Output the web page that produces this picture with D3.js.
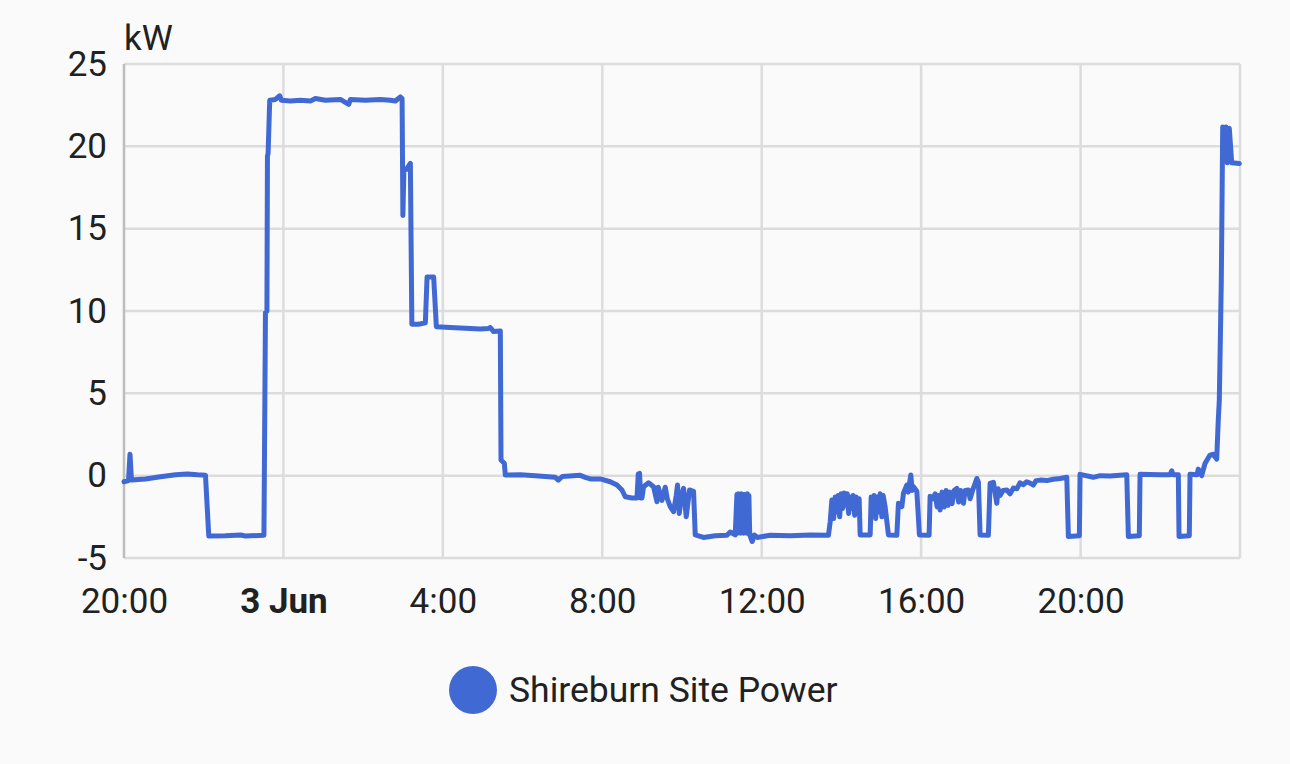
<!DOCTYPE html>
<html>
<head>
<meta charset="utf-8">
<script src="https://cdn.jsdelivr.net/npm/d3@7"></script>
<style>
  html, body { margin: 0; padding: 0; background: #fafafa; }
  svg { display: block; }
  text { font-family: Roboto, "Noto Sans", sans-serif; fill: #212121; }
</style>
</head>
<body>
<svg id="chart" width="1290" height="764"></svg>
<script>
// ---- data ----
const seriesName = "Shireburn Site Power";
const unitLabel = "kW";
const startTime = new Date(2024, 5, 2, 20, 0);   // 2 Jun 20:00
const endTime = new Date(2024, 5, 4, 0, 0);      // 4 Jun 00:00
const yTicks = [-5, 0, 5, 10, 15, 20, 25];
// hours since start (2 Jun 20:00)
const hoursSinceStart = [
  0, 0.113, 0.150, 0.188, 0.539, 0.915, 1.292, 1.585, 1.843, 2.044,
  2.127, 2.545, 2.922, 3.047, 3.511, 3.549, 3.586, 3.599, 3.616, 3.656,
  3.799, 3.907, 3.950, 4.175, 4.426, 4.677, 4.802, 5.053, 5.429, 5.638,
  5.680, 6.056, 6.433, 6.683, 6.809, 6.934, 6.977, 6.997, 7.022, 7.085,
  7.185, 7.222, 7.385, 7.561, 7.604, 7.769, 7.837, 8.188, 8.564, 8.940,
  9.141, 9.191, 9.274, 9.442, 9.459, 9.542, 9.567, 9.943, 10.320, 10.821,
  10.896, 10.997, 11.448, 11.574, 11.699, 11.950, 12.200, 12.369, 12.494, 12.577,
  12.745, 12.870, 12.903, 12.935, 12.965, 12.995, 13.036, 13.161, 13.286, 13.372,
  13.404, 13.497, 13.580, 13.630, 13.705, 13.788, 13.856, 13.888, 13.931, 13.981,
  14.039, 14.106, 14.189, 14.290, 14.332, 14.540, 14.834, 15.127, 15.210, 15.335,
  15.378, 15.398, 15.415, 15.436, 15.453, 15.473, 15.491, 15.511, 15.528, 15.548,
  15.566, 15.586, 15.604, 15.624, 15.641, 15.661, 15.679, 15.699,
  15.762, 15.812, 15.887, 16.213, 16.715, 17.216, 17.675, 17.718, 17.760, 17.805,
  17.843, 17.881, 17.918, 17.956, 17.993, 18.031, 18.069, 18.106, 18.144, 18.182,
  18.219, 18.257, 18.294, 18.332, 18.370, 18.407, 18.445, 18.470, 18.721, 18.746,
  18.783, 18.821, 18.859, 18.896, 18.934, 18.971, 19.014, 19.047, 19.097, 19.180,
  19.390, 19.430, 19.516, 19.556, 19.641, 19.674, 19.741, 19.774, 19.807, 19.892,
  19.957, 20.200, 20.225, 20.301, 20.351, 20.401, 20.439, 20.476, 20.526, 20.577,
  20.627, 20.677, 20.727, 20.777, 20.828, 20.895, 20.940, 20.990, 21.061, 21.103,
  21.186, 21.228, 21.304, 21.354, 21.397, 21.437, 21.479, 21.687, 21.730, 21.813,
  21.898, 21.931, 21.981, 22.056, 22.149, 22.232, 22.315, 22.400, 22.482, 22.558,
  22.650, 22.733, 22.816, 22.884, 22.984, 23.152, 23.317, 23.485, 23.654, 23.694,
  23.970, 23.987, 24.321, 24.489, 24.740, 25.159, 25.199, 25.474, 25.492, 25.993,
  26.244, 26.287, 26.320, 26.453, 26.470, 26.728, 26.746, 26.921, 26.954, 27.039,
  27.122, 27.247, 27.330, 27.415, 27.455, 27.481, 27.516, 27.531, 27.566, 27.598,
  27.649, 27.681, 27.731, 27.792, 27.982
];
// site power, kW
const powerKW = [
  -0.37, -0.30, 1.30, -0.27, -0.20, -0.07, 0.05, 0.10, 0.05, 0.03,
  -3.67, -3.65, -3.60, -3.66, -3.62, 9.90, 10.00, 19.40, 19.60, 22.80,
  22.85, 23.07, 22.80, 22.75, 22.80, 22.75, 22.90, 22.80, 22.85, 22.55,
  22.85, 22.80, 22.85, 22.80, 22.75, 23.00, 22.90, 15.80, 18.50, 18.60,
  18.97, 9.20, 9.20, 9.28, 12.07, 12.07, 9.05, 9.00, 8.95, 8.90,
  8.94, 9.00, 8.75, 8.79, 0.95, 0.75, 0.04, 0.05, 0.00, -0.10,
  -0.27, -0.05, 0.02, -0.10, -0.20, -0.20, -0.37, -0.57, -0.87, -1.28,
  -1.36, -1.36, 0.10, 0.14, -1.36, -1.36, -0.67, -0.43, -0.67, -1.58,
  -0.70, -1.50, -0.70, -1.40, -1.88, -2.19, -1.20, -0.57, -2.30, -1.30,
  -0.77, -2.49, -0.87, -0.95, -3.60, -3.75, -3.65, -3.62, -3.42, -3.60,
  -1.15, -3.50, -1.10, -3.40, -1.15, -3.50, -1.10, -3.30, -1.20, -3.50,
  -1.15, -3.40, -1.20, -3.50, -1.10, -3.40, -1.20, -3.60,
  -4.00, -3.60, -3.75, -3.62, -3.65, -3.60, -3.62, -2.80, -1.48, -2.60,
  -1.30, -2.20, -1.20, -2.50, -1.10, -2.00, -1.05, -1.80, -1.10, -2.30,
  -1.30, -2.00, -1.20, -2.40, -1.30, -2.20, -1.40, -3.60, -3.60, -1.30,
  -2.40, -1.20, -2.60, -1.30, -2.20, -1.10, -2.50, -1.20, -1.90, -3.60,
  -3.62, -1.68, -1.88, -1.07, -0.57, -1.00, 0.04, -0.90, -0.67, -0.95,
  -3.60, -3.62, -1.25, -1.40, -1.10, -1.90, -1.20, -2.09, -1.00, -1.90,
  -0.90, -1.80, -1.00, -1.70, -0.90, -0.77, -1.60, -0.90, -1.68, -0.90,
  -0.87, -1.40, -0.80, -0.47, -0.17, -0.40, -3.60, -3.62, -0.47, -0.40,
  -1.68, -0.80, -1.20, -0.90, -0.87, -1.10, -0.75, -0.80, -0.43, -0.55,
  -0.37, -0.45, -0.57, -0.30, -0.27, -0.30, -0.22, -0.17, -0.10, -3.70,
  -3.65, 0.08, -0.10, 0.00, -0.02, 0.05, -3.70, -3.65, 0.08, 0.05,
  0.05, 0.30, 0.05, 0.05, -3.70, -3.65, 0.08, 0.05, 0.40, 0.00,
  0.74, 1.25, 1.30, 1.00, 3.37, 4.59, 9.64, 11.87, 21.17, 19.15,
  21.17, 19.00, 21.10, 19.00, 18.96
];

// ---- layout ----
const W = 1290, H = 764;
const plot = { left: 124, right: 1240, top: 64, bottom: 558 };
const lineColor = "#4169d4";
const gridColor = "#dcdcdc";

const svg = d3.select("#chart");
svg.append("rect").attr("width", W).attr("height", H).attr("fill", "#fafafa");

const x = d3.scaleTime().domain([startTime, endTime]).range([plot.left, plot.right]);
const y = d3.scaleLinear().domain([-5, 25]).range([plot.bottom, plot.top]);

const data = hoursSinceStart.map((h, i) => ({
  t: new Date(startTime.getTime() + h * 3600 * 1000),
  v: powerKW[i]
}));

const xTickDates = d3.timeHour.every(4).range(startTime, new Date(endTime.getTime() + 1));

// y axis labels
const yAxis = d3.axisLeft(y).tickValues(yTicks).tickSize(0).tickPadding(17)
  .tickFormat(d => String(d));
const gy = svg.append("g").attr("transform", `translate(${plot.left},0)`).call(yAxis);
gy.select(".domain").remove();
gy.selectAll(".tick line").remove();
gy.selectAll(".tick text").style("font-size", "35px").attr("fill", "#212121");

// horizontal grid
svg.append("g").selectAll("line").data(yTicks).join("line")
  .attr("x1", plot.left).attr("x2", plot.right)
  .attr("y1", d => y(d)).attr("y2", d => y(d))
  .attr("stroke", gridColor).attr("stroke-width", 2.5);

// vertical grid
svg.append("g").selectAll("line").data(xTickDates).join("line")
  .attr("x1", d => x(d)).attr("x2", d => x(d))
  .attr("y1", plot.top).attr("y2", plot.bottom)
  .attr("stroke", (d, i) => i === 0 ? "#bdbdbd" : gridColor)
  .attr("stroke-width", 2.5);

// x axis labels
const fmt = d => {
  if (d.getHours() === 0) return d3.timeFormat("%-d %b")(d);
  return d3.timeFormat("%-H:%M")(d);
};
const xAxis = d3.axisBottom(x).tickValues(xTickDates.filter(d => d < endTime))
  .tickSize(0).tickPadding(30).tickFormat(fmt);
const gx = svg.append("g").attr("transform", `translate(0,${plot.bottom})`).call(xAxis);
gx.select(".domain").remove();
gx.selectAll(".tick text")
  .style("font-size", "35px")
  .attr("fill", "#212121")
  .style("font-weight", d => d.getHours() === 0 ? "700" : "400");

// unit label
svg.append("text").attr("x", plot.left).attr("y", 50)
  .style("font-size", "35px").text(unitLabel);

// line
const line = d3.line().x(d => x(d.t)).y(d => y(d.v)).curve(d3.curveLinear);
svg.append("path").datum(data)
  .attr("d", line)
  .attr("fill", "none")
  .attr("stroke", lineColor)
  .attr("stroke-width", 5)
  .attr("stroke-linejoin", "round")
  .attr("stroke-linecap", "round");

// legend
const lg = svg.append("g");
lg.append("circle").attr("cx", 473).attr("cy", 690).attr("r", 24).attr("fill", lineColor);
lg.append("text").attr("x", 509).attr("y", 690).attr("dy", "0.35em")
  .style("font-size", "35.5px").text(seriesName);
</script>
</body>
</html>
